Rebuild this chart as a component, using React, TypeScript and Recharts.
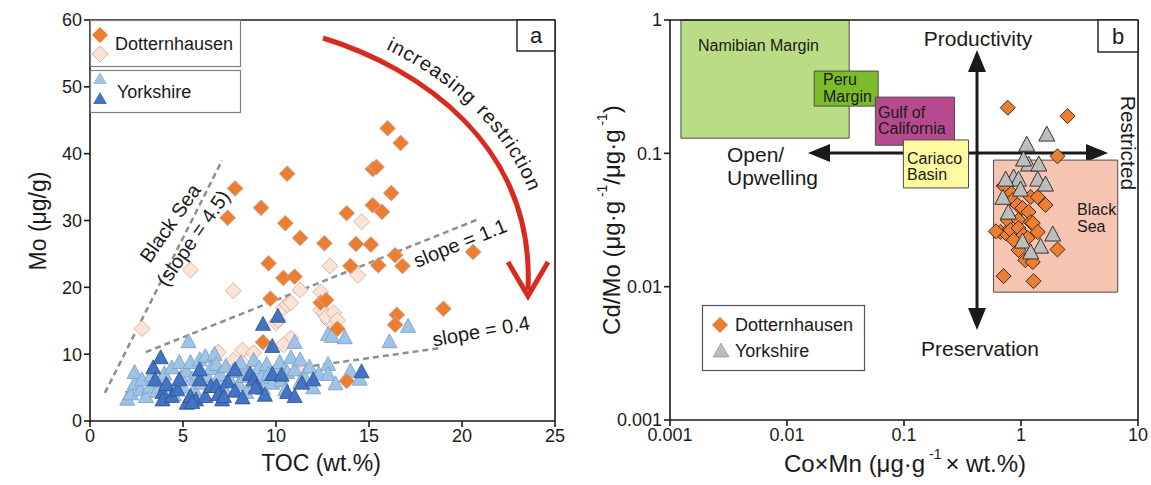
import React from "react";
import {
  ScatterChart,
  Scatter,
  XAxis,
  YAxis,
  ReferenceLine,
  ReferenceArea,
} from "recharts";

const FONT = '"Liberation Sans", Arial, Helvetica, sans-serif';
const INK = "#1a1a1a";

// ---- panel a : TOC (wt.%) vs Mo (ug/g) ----
const xTicksA = [0, 5, 10, 15, 20, 25];
const yTicksA = [0, 10, 20, 30, 40, 50, 60];

const dottDark = [
  [7.8, 34.8], [7.4, 30.4], [9.2, 31.9], [10.6, 37.0], [10.5, 29.6], [11.3, 27.4],
  [12.6, 26.6], [13.8, 31.1], [14.3, 26.5], [15.1, 26.4], [15.2, 37.7], [15.4, 38.0],
  [15.2, 32.3], [15.7, 31.3], [16.0, 43.8], [16.7, 41.6], [16.2, 34.1], [16.4, 24.8],
  [16.8, 23.2], [15.5, 23.3], [14.0, 23.2], [9.6, 23.6], [10.4, 21.4], [11.0, 21.6],
  [9.7, 18.3], [12.4, 17.7], [12.7, 18.1], [9.3, 11.8], [13.3, 13.8], [20.6, 25.3],
  [19.0, 16.8], [16.5, 15.9], [16.4, 14.4], [13.8, 6.0],
];

const dottPale = [
  [2.8, 13.8], [5.4, 22.6], [7.7, 19.5], [6.9, 10.3], [8.2, 10.6], [7.7, 9.1],
  [8.2, 8.7], [8.8, 10.2], [10.0, 14.7], [10.1, 15.1], [10.4, 16.9], [10.6, 17.4],
  [10.8, 12.4], [10.4, 11.4], [10.8, 17.7], [11.3, 19.6], [11.4, 7.3], [12.4, 19.3],
  [12.4, 16.6], [12.6, 16.2], [12.8, 15.1], [12.7, 15.6], [12.9, 23.2], [13.1, 16.2],
  [13.3, 15.1], [14.4, 21.8], [14.6, 29.8], [9.1, 7.3],
];

const yorkLight = [
  [2.0, 3.2], [2.2, 4.0], [2.4, 5.5], [2.4, 7.2], [2.7, 4.6], [2.8, 6.1], [3.0, 3.6],
  [3.2, 5.0], [3.3, 6.8], [3.6, 4.4], [3.8, 6.0], [4.0, 7.0], [4.2, 5.2], [4.4, 7.9],
  [4.5, 3.9], [4.8, 8.7], [4.9, 6.5], [5.0, 5.0], [5.2, 7.4], [5.3, 11.8], [5.4, 8.7],
  [5.5, 6.2], [5.6, 4.6], [5.8, 7.0], [5.9, 9.1], [6.0, 5.6], [6.2, 9.6], [6.3, 6.6],
  [6.5, 7.8], [6.7, 9.9], [6.8, 8.4], [6.9, 5.8], [7.0, 6.9], [7.2, 4.8], [7.3, 8.1],
  [7.5, 6.2], [7.7, 7.4], [7.9, 7.6], [8.0, 5.4], [8.1, 8.6], [8.3, 6.6], [8.4, 4.2],
  [8.6, 7.2], [8.8, 9.0], [8.9, 5.8], [9.1, 7.9], [9.2, 6.4], [9.3, 4.8], [9.5, 8.4],
  [9.6, 6.9], [9.8, 5.6], [10.0, 7.5], [10.2, 8.7], [10.3, 6.0], [10.5, 4.6], [10.6, 7.2],
  [10.8, 9.4], [11.0, 11.7], [11.0, 7.6], [11.3, 9.1], [11.3, 5.7], [11.5, 6.6],
  [11.8, 8.0], [12.0, 4.9], [12.3, 7.0], [12.8, 12.9], [12.8, 8.4], [12.8, 6.9],
  [13.0, 12.6], [13.2, 5.5], [13.7, 12.4], [14.0, 7.4], [14.5, 6.2], [16.1, 11.8],
  [17.1, 14.1],
];

const yorkDark = [
  [3.4, 7.9], [3.5, 6.1], [3.8, 9.4], [3.9, 4.2], [3.9, 3.1], [4.1, 5.4], [4.4, 3.6],
  [4.7, 4.6], [4.8, 6.1], [5.2, 2.6], [5.4, 3.6], [5.7, 3.1], [5.5, 2.7], [5.9, 6.1],
  [5.9, 7.6], [6.2, 3.6], [6.5, 5.1], [6.8, 5.1], [6.9, 3.9], [7.1, 3.1], [7.2, 3.6],
  [7.4, 5.8], [7.8, 7.6], [7.8, 4.4], [8.2, 3.4], [8.6, 6.9], [8.8, 6.1], [9.0, 5.1],
  [8.9, 4.9], [9.3, 14.4], [9.4, 3.8], [9.8, 11.1], [9.8, 6.9], [10.1, 15.6],
  [10.3, 6.8], [10.6, 4.2], [11.0, 3.6], [11.4, 5.6], [12.0, 6.1], [14.6, 7.3],
];

// trend lines: [x0, y0, x1, y1]
const blackSeaLine = [0.8, 4.2, 7.1, 39.0];
const slope11Line = [3.0, 10.3, 20.8, 30.1];
const slope04Line = [1.9, 4.3, 18.8, 10.9];

// ---- panel b : CoxMn vs Cd/Mo (log-log) ----
const xTicksB = [0.001, 0.01, 0.1, 1, 10];
const yTicksB = [0.001, 0.01, 0.1, 1];

const dottB = [
  [0.77, 0.22], [2.5, 0.19], [2.05, 0.095], [0.71, 0.012], [1.28, 0.011], [2.05, 0.019],
  [0.815, 0.051], [0.847, 0.0446], [0.935, 0.041], [1.03, 0.0389], [1.21, 0.047],
  [1.39, 0.047], [1.16, 0.0363], [0.77, 0.0316], [0.953, 0.0316], [1.21, 0.0305],
  [0.67, 0.0257], [0.74, 0.0252], [0.815, 0.0266], [0.953, 0.0275], [1.05, 0.0244],
  [1.26, 0.03], [1.39, 0.0257], [0.865, 0.0224], [1.14, 0.0232], [0.953, 0.0188],
  [1.09, 0.0158], [1.26, 0.0153], [0.61, 0.026], [0.71, 0.057], [1.62, 0.041],
];

const yorkB = [
  [1.66, 0.137], [1.12, 0.115], [1.16, 0.0817], [1.42, 0.0817], [0.865, 0.0653],
  [0.953, 0.063], [1.39, 0.063], [1.62, 0.0578], [0.99, 0.053], [0.78, 0.0356],
  [1.87, 0.0244], [1.03, 0.0216], [1.47, 0.0198], [1.21, 0.0179], [0.74, 0.063],
  [1.05, 0.089], [0.7, 0.046],
];

// environment fields: [x1, x2, y1, y2]
const namibian = [0.00124, 0.034, 0.13, 1];
const peru = [0.0171, 0.0602, 0.226, 0.414];
const gulf = [0.0569, 0.27, 0.115, 0.264];
const cariaco = [0.0988, 0.356, 0.055, 0.126];
const blackSeaBox = [0.582, 6.71, 0.0091, 0.089];

const toPts = (rows: number[][]) => rows.map(([x, y]) => ({ x, y }));

const diamond = (r: number, fill: string, stroke: string, sw = 0.8) => (p: any) => {
  const { cx, cy } = p;
  return (
    <path
      d={`M${cx},${cy - r}L${cx + r},${cy}L${cx},${cy + r}L${cx - r},${cy}Z`}
      fill={fill}
      stroke={stroke}
      strokeWidth={sw}
    />
  );
};

const triangle = (w: number, h: number, fill: string, stroke: string, sw = 0.8) => (p: any) => {
  const { cx, cy } = p;
  return (
    <path
      d={`M${cx},${cy - h * 0.6}L${cx + w / 2},${cy + h * 0.4}L${cx - w / 2},${cy + h * 0.4}Z`}
      fill={fill}
      stroke={stroke}
      strokeWidth={sw}
    />
  );
};

const tickStyle = { fill: INK, fontSize: 18, fontFamily: FONT };
const axisStyle = { stroke: INK, strokeWidth: 1.6 };

const seg = (l: number[]) => [
  { x: l[0], y: l[1] },
  { x: l[2], y: l[3] },
];

const fieldArea = (b: number[], fill: string) => (
  <ReferenceArea
    x1={b[0]}
    x2={b[1]}
    y1={b[2]}
    y2={b[3]}
    fill={fill}
    fillOpacity={1}
    stroke="#4d4d4d"
    strokeWidth={1}
  />
);

function PanelA() {
  return (
    <ScatterChart width={575} height={485} margin={{ top: 20, right: 20, bottom: 34, left: 50 }}>
      <XAxis
        type="number"
        dataKey="x"
        domain={[0, 25]}
        ticks={xTicksA}
        interval={0}
        height={30}
        tick={tickStyle}
        axisLine={axisStyle}
        tickLine={axisStyle}
        tickSize={6}
      />
      <YAxis
        type="number"
        dataKey="y"
        domain={[0, 60]}
        ticks={yTicksA}
        interval={0}
        width={40}
        tick={tickStyle}
        axisLine={axisStyle}
        tickLine={axisStyle}
        tickSize={6}
      />
      <ReferenceLine y={60} stroke={INK} strokeWidth={1.6} />
      <ReferenceLine x={25} stroke={INK} strokeWidth={1.6} />
      <Scatter data={toPts(dottPale)} shape={diamond(8, "#FBE3D6", "#c9aa98")} isAnimationActive={false} />
      <Scatter data={toPts(yorkLight)} shape={triangle(15, 14, "#9DC3E6", "#7a9cc2")} isAnimationActive={false} />
      <Scatter data={toPts(dottDark)} shape={diamond(8, "#ED7D31", "#b9b9b9")} isAnimationActive={false} />
      <Scatter data={toPts(yorkDark)} shape={triangle(15, 14, "#4472C4", "#2c4f8e")} isAnimationActive={false} />
      <ReferenceLine segment={seg(blackSeaLine)} stroke="#8e8e8e" strokeWidth={2.5} strokeDasharray="6 4" />
      <ReferenceLine segment={seg(slope11Line)} stroke="#8e8e8e" strokeWidth={2.5} strokeDasharray="6 4" />
      <ReferenceLine segment={seg(slope04Line)} stroke="#8e8e8e" strokeWidth={2.5} strokeDasharray="6 4" />
    </ScatterChart>
  );
}

function PanelB() {
  return (
    <ScatterChart width={576} height={485} margin={{ top: 20, right: 13, bottom: 35, left: 50 }}>
      <XAxis
        type="number"
        dataKey="x"
        scale="log"
        domain={[0.001, 10]}
        ticks={xTicksB}
        interval={0}
        allowDataOverflow
        height={30}
        tickFormatter={(v: number) => String(v)}
        tick={tickStyle}
        axisLine={axisStyle}
        tickLine={axisStyle}
        tickSize={6}
      />
      <YAxis
        type="number"
        dataKey="y"
        scale="log"
        domain={[0.001, 1]}
        ticks={yTicksB}
        interval={0}
        allowDataOverflow
        width={45}
        tickFormatter={(v: number) => String(v)}
        tick={tickStyle}
        axisLine={axisStyle}
        tickLine={axisStyle}
        tickSize={6}
      />
      <ReferenceLine y={1} stroke={INK} strokeWidth={1.6} />
      <ReferenceLine x={10} stroke={INK} strokeWidth={1.6} />
      {fieldArea(namibian, "#B9DC85")}
      {fieldArea(peru, "#7CBB2A")}
      {fieldArea(gulf, "#B74A8E")}
      {fieldArea(cariaco, "#FFFA9F")}
      {fieldArea(blackSeaBox, "#F5C5B2")}
      <Scatter data={toPts(dottB)} shape={diamond(7.5, "#ED7D31", "#3a2a20", 1)} isAnimationActive={false} />
      <Scatter data={toPts(yorkB)} shape={triangle(16, 15, "#BDBDBD", "#333", 1)} isAnimationActive={false} />
    </ScatterChart>
  );
}

const txt = { fontFamily: FONT, fill: INK } as const;

function Underlay() {
  // process arrows of panel b, drawn beneath the fields
  return (
    <svg width={1151} height={485} style={{ position: "absolute", left: 0, top: 0 }}>
      <line x1={826} y1={153} x2={1090} y2={153} stroke={INK} strokeWidth={3} />
      <path d="M808,153L830,144L830,162Z" fill={INK} />
      <path d="M1108,153L1086,144L1086,162Z" fill={INK} />
      <line x1={977} y1={68} x2={977} y2={312} stroke={INK} strokeWidth={3} />
      <path d="M977,50L968,72L986,72Z" fill={INK} />
      <path d="M977,330L968,308L986,308Z" fill={INK} />
    </svg>
  );
}

function Overlay() {
  return (
    <svg width={1151} height={485} style={{ position: "absolute", left: 0, top: 0, pointerEvents: "none" }}>
      {/* axis titles */}
      <text {...txt} x={321} y={463} fontSize={23} textAnchor="middle" dominantBaseline="central">
        TOC (wt.%)
      </text>
      <text {...txt} x={38} y={221} fontSize={23} textAnchor="middle" dominantBaseline="central" transform="rotate(-90 38 221)">
        Mo (μg/g)
      </text>
      <text {...txt} x={905} y={463} fontSize={24} textAnchor="middle" dominantBaseline="central">
        Co×Mn (μg·g<tspan fontSize={14} dy={-9}> -1 </tspan>
        <tspan dy={9}>× wt.%)</tspan>
      </text>
      <text {...txt} x={611} y={220} fontSize={24} textAnchor="middle" dominantBaseline="central" transform="rotate(-90 611 220)">
        Cd/Mo (μg·g<tspan fontSize={14} dy={-9}> -1</tspan>
        <tspan dy={9}>/μg·g</tspan>
        <tspan fontSize={14} dy={-9}> -1</tspan>
        <tspan dy={9}>)</tspan>
      </text>

      {/* panel labels */}
      <rect x={517} y={20} width={38} height={31} fill="#fff" stroke={INK} strokeWidth={1.4} />
      <text {...txt} x={536} y={35} fontSize={22} textAnchor="middle" dominantBaseline="central">a</text>
      <rect x={1098} y={20} width={40} height={32} fill="#fff" stroke={INK} strokeWidth={1.4} />
      <text {...txt} x={1118} y={36} fontSize={22} textAnchor="middle" dominantBaseline="central">b</text>

      {/* legend a */}
      <rect x={90.5} y={20.5} width={150} height={46} fill="#fff" stroke="#808080" strokeWidth={1.2} />
      <rect x={90.5} y={70.5} width={150} height={42} fill="#fff" stroke="#808080" strokeWidth={1.2} />
      <path d="M100,27L108,35L100,43L92,35Z" fill="#ED7D31" />
      <path d="M100,46L108,54L100,62L92,54Z" fill="#FBE3D6" stroke="#c9aa98" strokeWidth={0.8} />
      <path d="M100,72L107,84L93,84Z" fill="#9DC3E6" />
      <path d="M100,92L107,104L93,104Z" fill="#4472C4" />
      <text {...txt} x={115} y={44} fontSize={18} dominantBaseline="central">Dotternhausen</text>
      <text {...txt} x={117} y={92} fontSize={18} dominantBaseline="central">Yorkshire</text>

      {/* trend line labels */}
      <text {...txt} x={170} y={223} fontSize={20} textAnchor="middle" dominantBaseline="central" transform="rotate(-55 170 223)">
        Black Sea
      </text>
      <text {...txt} x={193} y={238} fontSize={20} textAnchor="middle" dominantBaseline="central" transform="rotate(-55 193 238)">
        (slope = 4.5)
      </text>
      <text {...txt} x={460} y={243} fontSize={20} textAnchor="middle" dominantBaseline="central" transform="rotate(-22 460 243)">
        slope = 1.1
      </text>
      <text {...txt} x={481} y={331} fontSize={20} textAnchor="middle" dominantBaseline="central" transform="rotate(-10 481 331)">
        slope = 0.4
      </text>

      {/* increasing restriction arrow */}
      <defs>
        <path id="restrictPath" d="M328,27 C432,58 552,140 545,292" />
      </defs>
      <path d="M323,38 C420,68 535,145 528,290" fill="none" stroke="#D92A1F" strokeWidth={5} />
      <path d="M508,262 L528,296 L548,262" fill="none" stroke="#D92A1F" strokeWidth={5} strokeLinejoin="miter" />
      <text {...txt} fontSize={20} letterSpacing={1}>
        <textPath href="#restrictPath" startOffset={62}>increasing</textPath>
      </text>
      <text {...txt} fontSize={20} letterSpacing={1}>
        <textPath href="#restrictPath" startOffset={172}>restriction</textPath>
      </text>

      {/* panel b field labels */}
      <text {...txt} x={698} y={45} fontSize={16} dominantBaseline="central">Namibian Margin</text>
      <text {...txt} x={823} y={79} fontSize={16} dominantBaseline="central">Peru</text>
      <text {...txt} x={823} y={96} fontSize={16} dominantBaseline="central">Margin</text>
      <text {...txt} x={878} y={112} fontSize={16} dominantBaseline="central">Gulf of</text>
      <text {...txt} x={878} y={128} fontSize={16} dominantBaseline="central">California</text>
      <text {...txt} x={907} y={158} fontSize={16} dominantBaseline="central">Cariaco</text>
      <text {...txt} x={907} y={174} fontSize={16} dominantBaseline="central">Basin</text>
      <text {...txt} x={1077} y={209} fontSize={16} dominantBaseline="central">Black</text>
      <text {...txt} x={1077} y={226} fontSize={16} dominantBaseline="central">Sea</text>

      {/* process annotations */}
      <text {...txt} x={978} y={38} fontSize={21} textAnchor="middle" dominantBaseline="central">Productivity</text>
      <text {...txt} x={980} y={348} fontSize={21} textAnchor="middle" dominantBaseline="central">Preservation</text>
      <text {...txt} x={727} y={154} fontSize={21} dominantBaseline="central">Open/</text>
      <text {...txt} x={727} y={177} fontSize={21} dominantBaseline="central">Upwelling</text>
      <text {...txt} x={1128} y={143} fontSize={21} textAnchor="middle" dominantBaseline="central" transform="rotate(90 1128 143)">
        Restricted
      </text>

      {/* legend b */}
      <rect x={702.5} y={305.5} width={162} height={65} fill="#fff" stroke="#555" strokeWidth={1.2} />
      <path d="M720,317L728,325L720,333L712,325Z" fill="#ED7D31" />
      <path d="M721,343L729,357L713,357Z" fill="#BDBDBD" stroke="#888" strokeWidth={0.6} />
      <text {...txt} x={735} y={325} fontSize={18} dominantBaseline="central">Dotternhausen</text>
      <text {...txt} x={735} y={351} fontSize={18} dominantBaseline="central">Yorkshire</text>
    </svg>
  );
}

export default function App() {
  return (
    <div style={{ position: "absolute", left: 0, top: 0, width: 1151, height: 485, background: "#fff", overflow: "hidden" }}>
      <Underlay />
      <div style={{ position: "absolute", left: 0, top: 0 }}>
        <PanelA />
      </div>
      <div style={{ position: "absolute", left: 575, top: 0 }}>
        <PanelB />
      </div>
      <Overlay />
    </div>
  );
}
